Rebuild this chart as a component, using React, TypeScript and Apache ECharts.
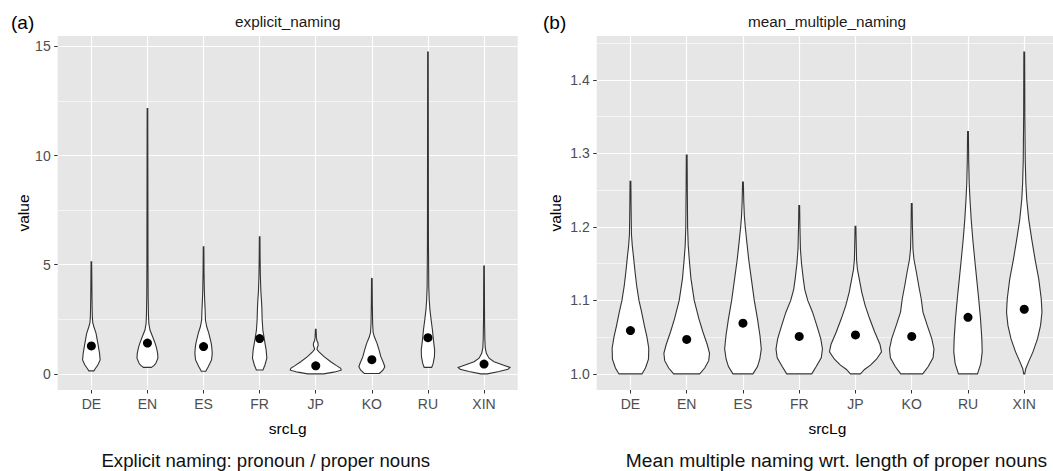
import React, { useEffect, useRef } from 'react';
import * as echarts from 'echarts';

const categories = ['DE', 'EN', 'ES', 'FR', 'JP', 'KO', 'RU', 'XIN'];

// Violin outlines as [value, density] pairs, ordered from the lowest value upwards.
// Panel (a): explicit_naming
const explicitDE = [[0.14, 2.5], [0.26, 4.2], [0.41, 6.5], [0.64, 8.8], [0.94, 8.2], [1.4, 6.5], [1.86, 4.7], [2.16, 2.5], [2.35, 1.4], [2.6, 1.0], [3.0, 0.8], [3.6, 0.6], [4.4, 0.45], [5.13, 0.3]];
const explicitEN = [[0.3, 4], [0.4, 7], [0.5, 8.5], [0.72, 10.5], [0.94, 10.2], [1.2, 9], [1.4, 7.7], [1.7, 5.2], [2.01, 2.5], [2.3, 1.4], [2.7, 1.0], [3.5, 0.7], [5, 0.55], [8, 0.45], [12.15, 0.3]];
const explicitES = [[0.12, 2.2], [0.33, 4.7], [0.64, 8], [0.94, 8.7], [1.2, 8.3], [1.4, 7.7], [1.86, 5.3], [2.16, 3.2], [2.47, 1.9], [2.9, 1.6], [3.3, 1.2], [3.8, 0.8], [4.6, 0.5], [5.82, 0.3]];
const explicitFR = [[0.18, 3.3], [0.41, 5.3], [0.72, 7.2], [1.1, 6.5], [1.55, 4.8], [2.01, 3.2], [2.5, 2.5], [3.0, 2.2], [3.3, 1.9], [3.8, 1.2], [4.5, 0.7], [5.3, 0.45], [6.28, 0.3]];
const explicitJP = [[0.0, 8], [0.08, 18], [0.17, 25.5], [0.26, 25], [0.38, 20.8], [0.56, 15], [0.79, 8.3], [1.02, 3], [1.12, 1.2], [1.2, 1.5], [1.3, 2.4], [1.42, 2.2], [1.52, 1.2], [1.65, 0.7], [2.04, 0.3]];
const explicitKO = [[0.02, 7.5], [0.18, 11.3], [0.33, 13], [0.49, 11.8], [0.79, 9], [1.1, 7.2], [1.4, 5.2], [1.7, 2.5], [1.9, 1.3], [2.3, 0.8], [3.2, 0.5], [4.37, 0.3]];
const explicitRU = [[0.3, 3.8], [0.49, 5.3], [0.79, 6.5], [1.1, 6.7], [1.55, 5.5], [2.01, 4.5], [2.47, 3.2], [2.93, 2], [3.38, 1.3], [4.0, 0.8], [6.0, 0.5], [10, 0.4], [14.74, 0.3]];
const explicitXIN = [[0.0, 3.3], [0.11, 15], [0.21, 24], [0.3, 26], [0.41, 19], [0.56, 10], [0.72, 5], [0.94, 2.3], [1.2, 1.2], [1.6, 0.8], [2.5, 0.5], [4.94, 0.3]];
const explicitMeans = [1.28, 1.41, 1.25, 1.62, 0.37, 0.65, 1.66, 0.45];

// Panel (b): mean_multiple_naming
const multipleDE = [[1.0, 11.5], [1.008, 15], [1.02, 18], [1.035, 18.3], [1.05, 16.5], [1.065, 14], [1.085, 11], [1.1, 8.5], [1.12, 6.2], [1.14, 4.5], [1.16, 3.0], [1.175, 1.8], [1.19, 1.0], [1.22, 0.7], [1.262, 0.4]];
const multipleEN = [[1.0, 13], [1.008, 18], [1.018, 22], [1.028, 22.8], [1.04, 20.5], [1.057, 16.2], [1.075, 12.2], [1.1, 7.5], [1.13, 4.2], [1.155, 2.6], [1.175, 1.5], [1.2, 0.9], [1.25, 0.6], [1.298, 0.4]];
const multipleES = [[1.0, 10], [1.01, 14.5], [1.02, 16.8], [1.034, 18.3], [1.052, 17], [1.075, 14.5], [1.1, 11.3], [1.13, 8.3], [1.155, 5.8], [1.18, 3.8], [1.2, 2.3], [1.215, 1.4], [1.235, 0.8], [1.261, 0.4]];
const multipleFR = [[1.0, 12.5], [1.01, 17], [1.022, 22], [1.034, 23.2], [1.048, 21.5], [1.066, 17.5], [1.084, 13.3], [1.1, 8.5], [1.115, 5.5], [1.13, 4], [1.15, 2.3], [1.17, 1.2], [1.2, 0.7], [1.229, 0.4]];
const multipleJP = [[1.0, 5], [1.006, 9], [1.012, 15], [1.02, 21], [1.03, 26], [1.04, 24.5], [1.057, 19.2], [1.075, 14.2], [1.093, 9.7], [1.111, 6.3], [1.129, 3.8], [1.142, 2], [1.155, 1.1], [1.18, 0.7], [1.201, 0.4]];
const multipleKO = [[1.0, 11], [1.01, 16.5], [1.022, 21.3], [1.034, 22.2], [1.048, 20], [1.066, 15.5], [1.084, 11.2], [1.102, 9.5], [1.12, 7], [1.138, 4.7], [1.156, 2.2], [1.17, 1.2], [1.2, 0.7], [1.232, 0.4]];
const multipleRU = [[1.0, 9.5], [1.014, 12.8], [1.03, 14.2], [1.048, 13.8], [1.075, 12.5], [1.102, 10.7], [1.129, 8.7], [1.156, 6.7], [1.183, 4.8], [1.21, 3.2], [1.237, 2], [1.26, 1.2], [1.29, 0.7], [1.33, 0.4]];
const multipleXIN = [[1.0, 0.5], [1.007, 1.5], [1.016, 4.2], [1.03, 8.7], [1.048, 13.3], [1.066, 16.3], [1.084, 17.7], [1.102, 17], [1.129, 14.5], [1.156, 10.8], [1.183, 7.5], [1.21, 4.5], [1.237, 2.5], [1.26, 1.6], [1.29, 1.0], [1.35, 0.6], [1.438, 0.4]];
const multipleMeans = [1.059, 1.047, 1.069, 1.051, 1.053, 1.051, 1.077, 1.088];

// Tick values
const explicitMajorTicks = [0, 5, 10, 15];
const explicitMinorTicks = [2.5, 7.5, 12.5];
const multipleMajorTicks = [1.0, 1.1, 1.2, 1.3, 1.4];
const multipleMinorTicks = [1.05, 1.15, 1.25, 1.35, 1.45];

const explicitProfiles = [explicitDE, explicitEN, explicitES, explicitFR, explicitJP, explicitKO, explicitRU, explicitXIN];
const multipleProfiles = [multipleDE, multipleEN, multipleES, multipleFR, multipleJP, multipleKO, multipleRU, multipleXIN];

// density -> half-width in category units
const VIOLIN_SCALE = 1 / 56.2;
const FONT = '"Liberation Sans", Arial, Helvetica, sans-serif';
const PANEL_BG = '#E6E6E6';

function paddedExtent(profiles: number[][][]) {
  const vals = profiles.flatMap((p) => p.map((r) => r[0]));
  const lo = Math.min(...vals);
  const hi = Math.max(...vals);
  const pad = (hi - lo) * 0.05;
  return [lo - pad, hi + pad];
}

function xAxisFor(gridIndex: number) {
  const ticks = categories.map((_, i) => i);
  return {
    type: 'value',
    gridIndex,
    position: 'bottom',
    min: -0.6,
    max: categories.length - 0.4,
    axisLine: { show: false, onZero: false },
    axisTick: { show: true, customValues: ticks, length: 3.5, lineStyle: { color: '#333333', width: 1 } },
    axisLabel: {
      customValues: ticks,
      formatter: (v: number) => categories[Math.round(v)],
      color: '#4D4D4D',
      fontSize: 14,
      fontFamily: FONT,
      margin: 7,
    },
    splitLine: { show: true, lineStyle: { color: '#FFFFFF', width: 1.2 } },
    name: 'srcLg',
    nameLocation: 'middle',
    nameGap: 30,
    nameTextStyle: { color: '#000000', fontSize: 15.5, fontFamily: FONT },
  };
}

function yAxesFor(gridIndex: number, extent: number[], major: number[], minor: number[], digits: number, nameGap: number) {
  return [
    {
      type: 'value',
      gridIndex,
      position: 'left',
      min: extent[0],
      max: extent[1],
      axisLine: { show: false, onZero: false },
      axisTick: { show: true, customValues: major, length: 3.5, lineStyle: { color: '#333333', width: 1 } },
      axisLabel: {
        customValues: major,
        formatter: (v: number) => v.toFixed(digits),
        color: '#4D4D4D',
        fontSize: 14,
        fontFamily: FONT,
        margin: 7,
      },
      splitLine: { show: true, lineStyle: { color: '#FFFFFF', width: 1.2 } },
      name: 'value',
      nameLocation: 'middle',
      nameRotate: 90,
      nameGap,
      nameTextStyle: { color: '#000000', fontSize: 15.5, fontFamily: FONT },
    },
    {
      type: 'value',
      gridIndex,
      position: 'left',
      min: extent[0],
      max: extent[1],
      axisLine: { show: false, onZero: false },
      axisTick: { show: false, customValues: minor },
      axisLabel: { show: false, customValues: minor },
      splitLine: { show: true, lineStyle: { color: '#FFFFFF', width: 0.6 } },
    },
  ];
}

function violinSeries(profiles: number[][][], means: number[], gridIndex: number) {
  return {
    type: 'custom',
    xAxisIndex: gridIndex,
    yAxisIndex: gridIndex * 2,
    clip: true,
    encode: { x: 0, y: 1 },
    data: categories.map((_, i) => [i, means[i]]),
    z: 2,
    renderItem: (params: any, api: any) => {
      const c = api.value(0);
      const prof = profiles[params.dataIndex];
      const right = prof.map(([v, d]) => api.coord([c + d * VIOLIN_SCALE, v]));
      const left = prof
        .slice()
        .reverse()
        .map(([v, d]) => api.coord([c - d * VIOLIN_SCALE, v]));
      return {
        type: 'polygon',
        shape: { points: right.concat(left) },
        style: { fill: '#FFFFFF', stroke: '#333333', lineWidth: 1.1 },
      };
    },
  };
}

function meanSeries(means: number[], gridIndex: number) {
  return {
    type: 'scatter',
    xAxisIndex: gridIndex,
    yAxisIndex: gridIndex * 2,
    data: categories.map((_, i) => [i, means[i]]),
    symbol: 'circle',
    symbolSize: 9,
    itemStyle: { color: '#000000', opacity: 1 },
    z: 3,
  };
}

function label(text: string, x: number, y: number, fontSize: number, align: string, color: string) {
  return {
    type: 'text',
    x,
    y,
    style: { text, fontSize, fontFamily: FONT, fill: color, align, verticalAlign: 'middle' },
  };
}

export default function App() {
  const ref = useRef<HTMLDivElement>(null);

  useEffect(() => {
    document.body.style.margin = '0';
    if (!ref.current) return;
    const chart = echarts.init(ref.current, undefined, { renderer: 'svg' });
    const extA = paddedExtent(explicitProfiles);
    const extB = paddedExtent(multipleProfiles);

    chart.setOption({
      animation: false,
      backgroundColor: '#FFFFFF',
      grid: [
        { left: 57.7, top: 36, width: 460, height: 354, show: true, backgroundColor: PANEL_BG, borderWidth: 0, outerBoundsMode: 'none' },
        { left: 596.7, top: 36, width: 461.3, height: 354, show: true, backgroundColor: PANEL_BG, borderWidth: 0, outerBoundsMode: 'none' },
      ],
      xAxis: [xAxisFor(0), xAxisFor(1)],
      yAxis: [
        ...yAxesFor(0, extA, explicitMajorTicks, explicitMinorTicks, 0, 17),
        ...yAxesFor(1, extB, multipleMajorTicks, multipleMinorTicks, 1, 33),
      ],
      series: [
        violinSeries(explicitProfiles, explicitMeans, 0),
        meanSeries(explicitMeans, 0),
        violinSeries(multipleProfiles, multipleMeans, 1),
        meanSeries(multipleMeans, 1),
      ],
      graphic: [
        label('(a)', 11, 22.5, 19, 'left', '#000000'),
        label('(b)', 543, 22.5, 19, 'left', '#000000'),
        label('explicit_naming', 287.7, 21.5, 15.3, 'center', '#1A1A1A'),
        label('mean_multiple_naming', 827, 21.5, 15.3, 'center', '#1A1A1A'),
        label('Explicit naming: pronoun / proper nouns', 265.8, 460, 18.6, 'center', '#111111'),
        label('Mean multiple naming wrt. length of proper nouns', 836.5, 460, 19.2, 'center', '#111111'),
      ],
    });

    return () => chart.dispose();
  }, []);

  return <div ref={ref} style={{ position: 'absolute', left: 0, top: 0, width: 1053, height: 471 }} />;
}
